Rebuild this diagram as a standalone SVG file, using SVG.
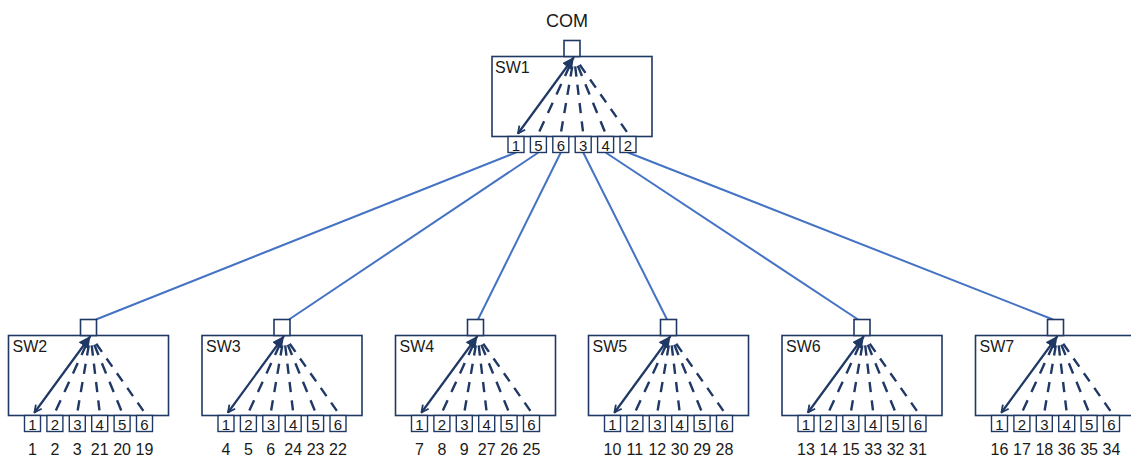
<svg xmlns="http://www.w3.org/2000/svg" xmlns:xlink="http://www.w3.org/1999/xlink" width="1131" height="457" viewBox="0 0 1131 457">
<style>
.box{fill:#fff;stroke:#1F3864;stroke-width:1.6}
.sq{fill:#fff;stroke:#1F3864;stroke-width:1.6}
.port{fill:#fff;stroke:#1F3864;stroke-width:1.4}
.lbl{font-family:"Liberation Sans",Arial,sans-serif;font-size:16px;fill:#1a1a1a}
.pd{font-family:"Liberation Sans",Arial,sans-serif;font-size:15px;fill:#1a1a1a;text-anchor:middle}
.num{font-family:"Liberation Sans",Arial,sans-serif;font-size:16px;fill:#1a1a1a;text-anchor:middle}
.com{font-family:"Liberation Sans",Arial,sans-serif;font-size:18px;fill:#1a1a1a;text-anchor:middle}
.conn{stroke:#4472C4;stroke-width:2;fill:none}
.solid{stroke:#1F3864;stroke-width:2.2;fill:none}
.dash{stroke:#1F3864;stroke-width:2.4;fill:none;stroke-dasharray:10 8}
</style>
<defs>
<marker id="tri" viewBox="0 0 10 10" refX="10" refY="5" markerWidth="12" markerHeight="12" markerUnits="userSpaceOnUse" orient="auto-start-reverse">
<path d="M0,0 L10,5 L0,10 z" fill="#1F3864"/>
</marker>
<marker id="vee" viewBox="0 0 10 10" refX="9" refY="5" markerWidth="9" markerHeight="9" markerUnits="userSpaceOnUse" orient="auto">
<path d="M1,1 L9,5 L1,9" fill="none" stroke="#1F3864" stroke-width="2"/>
</marker>
<g id="fan">
<line class="solid" x1="0" y1="0.5" x2="-56" y2="77" marker-start="url(#tri)" marker-end="url(#vee)"/>
<line class="dash" x1="-4.2" y1="9.1" x2="-35.6" y2="77" pathLength="66"/>
<line class="dash" x1="-1.7" y1="9.9" x2="-13.2" y2="77" pathLength="66"/>
<line class="dash" x1="1.2" y1="9.9" x2="9.2" y2="77" pathLength="66"/>
<line class="dash" x1="3.8" y1="9.3" x2="31.6" y2="77" pathLength="66"/>
<line class="dash" x1="5.7" y1="8.2" x2="54" y2="77" pathLength="84"/>
</g>
</defs>
<rect width="1131" height="457" fill="#fff"/>

<g id="connectors">
<line class="conn" x1="516" y1="152.5" x2="96" y2="319.5"/>
<line class="conn" x1="538.4" y1="152.5" x2="289" y2="319.5"/>
<line class="conn" x1="560.8" y1="152.5" x2="478" y2="319.5"/>
<line class="conn" x1="583.2" y1="152.5" x2="667" y2="319.5"/>
<line class="conn" x1="605.6" y1="152.5" x2="858" y2="319.5"/>
<line class="conn" x1="628" y1="152.5" x2="1053" y2="319.5"/>
</g>

<g id="com"><text class="com" x="567" y="27">COM</text></g>

<g id="sw1" transform="translate(572,0)">
<rect class="box" x="-80" y="56.5" width="160" height="80"/>
<rect class="sq" x="-8" y="40.5" width="16" height="16"/>
<text class="lbl" x="-77" y="73">SW1</text>
<use href="#fan" x="2" y="56.5"/>
<rect class="port" x="-64" y="136.5" width="16" height="16"/>
<rect class="port" x="-41.6" y="136.5" width="16" height="16"/>
<rect class="port" x="-19.2" y="136.5" width="16" height="16"/>
<rect class="port" x="3.2" y="136.5" width="16" height="16"/>
<rect class="port" x="25.6" y="136.5" width="16" height="16"/>
<rect class="port" x="48" y="136.5" width="16" height="16"/>
<text class="pd" x="-56" y="150.5">1</text>
<text class="pd" x="-33.6" y="150.5">5</text>
<text class="pd" x="-11.2" y="150.5">6</text>
<text class="pd" x="11.2" y="150.5">3</text>
<text class="pd" x="33.6" y="150.5">4</text>
<text class="pd" x="56" y="150.5">2</text>
</g>

<g id="sw2" transform="translate(88.5,0)">
<rect class="box" x="-80" y="335.5" width="160" height="80"/>
<rect class="sq" x="-8" y="319.5" width="16" height="16"/>
<text class="lbl" x="-76" y="352">SW2</text>
<use href="#fan" x="2" y="335.5"/>
<rect class="port" x="-64" y="415.5" width="16" height="16"/>
<rect class="port" x="-41.6" y="415.5" width="16" height="16"/>
<rect class="port" x="-19.2" y="415.5" width="16" height="16"/>
<rect class="port" x="3.2" y="415.5" width="16" height="16"/>
<rect class="port" x="25.6" y="415.5" width="16" height="16"/>
<rect class="port" x="48" y="415.5" width="16" height="16"/>
<text class="pd" x="-56" y="429.5">1</text>
<text class="pd" x="-33.6" y="429.5">2</text>
<text class="pd" x="-11.2" y="429.5">3</text>
<text class="pd" x="11.2" y="429.5">4</text>
<text class="pd" x="33.6" y="429.5">5</text>
<text class="pd" x="56" y="429.5">6</text>
<text class="num" x="-56" y="455">1</text>
<text class="num" x="-33.6" y="455">2</text>
<text class="num" x="-11.2" y="455">3</text>
<text class="num" x="11.2" y="455">21</text>
<text class="num" x="33.6" y="455">20</text>
<text class="num" x="56" y="455">19</text>
</g>

<g id="sw3" transform="translate(282,0)">
<rect class="box" x="-80" y="335.5" width="160" height="80"/>
<rect class="sq" x="-8" y="319.5" width="16" height="16"/>
<text class="lbl" x="-76" y="352">SW3</text>
<use href="#fan" x="2" y="335.5"/>
<rect class="port" x="-64" y="415.5" width="16" height="16"/>
<rect class="port" x="-41.6" y="415.5" width="16" height="16"/>
<rect class="port" x="-19.2" y="415.5" width="16" height="16"/>
<rect class="port" x="3.2" y="415.5" width="16" height="16"/>
<rect class="port" x="25.6" y="415.5" width="16" height="16"/>
<rect class="port" x="48" y="415.5" width="16" height="16"/>
<text class="pd" x="-56" y="429.5">1</text>
<text class="pd" x="-33.6" y="429.5">2</text>
<text class="pd" x="-11.2" y="429.5">3</text>
<text class="pd" x="11.2" y="429.5">4</text>
<text class="pd" x="33.6" y="429.5">5</text>
<text class="pd" x="56" y="429.5">6</text>
<text class="num" x="-56" y="455">4</text>
<text class="num" x="-33.6" y="455">5</text>
<text class="num" x="-11.2" y="455">6</text>
<text class="num" x="11.2" y="455">24</text>
<text class="num" x="33.6" y="455">23</text>
<text class="num" x="56" y="455">22</text>
</g>

<g id="sw4" transform="translate(475.5,0)">
<rect class="box" x="-80" y="335.5" width="160" height="80"/>
<rect class="sq" x="-8" y="319.5" width="16" height="16"/>
<text class="lbl" x="-76" y="352">SW4</text>
<use href="#fan" x="2" y="335.5"/>
<rect class="port" x="-64" y="415.5" width="16" height="16"/>
<rect class="port" x="-41.6" y="415.5" width="16" height="16"/>
<rect class="port" x="-19.2" y="415.5" width="16" height="16"/>
<rect class="port" x="3.2" y="415.5" width="16" height="16"/>
<rect class="port" x="25.6" y="415.5" width="16" height="16"/>
<rect class="port" x="48" y="415.5" width="16" height="16"/>
<text class="pd" x="-56" y="429.5">1</text>
<text class="pd" x="-33.6" y="429.5">2</text>
<text class="pd" x="-11.2" y="429.5">3</text>
<text class="pd" x="11.2" y="429.5">4</text>
<text class="pd" x="33.6" y="429.5">5</text>
<text class="pd" x="56" y="429.5">6</text>
<text class="num" x="-56" y="455">7</text>
<text class="num" x="-33.6" y="455">8</text>
<text class="num" x="-11.2" y="455">9</text>
<text class="num" x="11.2" y="455">27</text>
<text class="num" x="33.6" y="455">26</text>
<text class="num" x="56" y="455">25</text>
</g>

<g id="sw5" transform="translate(668.5,0)">
<rect class="box" x="-80" y="335.5" width="160" height="80"/>
<rect class="sq" x="-8" y="319.5" width="16" height="16"/>
<text class="lbl" x="-76" y="352">SW5</text>
<use href="#fan" x="2" y="335.5"/>
<rect class="port" x="-64" y="415.5" width="16" height="16"/>
<rect class="port" x="-41.6" y="415.5" width="16" height="16"/>
<rect class="port" x="-19.2" y="415.5" width="16" height="16"/>
<rect class="port" x="3.2" y="415.5" width="16" height="16"/>
<rect class="port" x="25.6" y="415.5" width="16" height="16"/>
<rect class="port" x="48" y="415.5" width="16" height="16"/>
<text class="pd" x="-56" y="429.5">1</text>
<text class="pd" x="-33.6" y="429.5">2</text>
<text class="pd" x="-11.2" y="429.5">3</text>
<text class="pd" x="11.2" y="429.5">4</text>
<text class="pd" x="33.6" y="429.5">5</text>
<text class="pd" x="56" y="429.5">6</text>
<text class="num" x="-56" y="455">10</text>
<text class="num" x="-33.6" y="455">11</text>
<text class="num" x="-11.2" y="455">12</text>
<text class="num" x="11.2" y="455">30</text>
<text class="num" x="33.6" y="455">29</text>
<text class="num" x="56" y="455">28</text>
</g>

<g id="sw6" transform="translate(862,0)">
<rect class="box" x="-80" y="335.5" width="160" height="80"/>
<rect class="sq" x="-8" y="319.5" width="16" height="16"/>
<text class="lbl" x="-76" y="352">SW6</text>
<use href="#fan" x="2" y="335.5"/>
<rect class="port" x="-64" y="415.5" width="16" height="16"/>
<rect class="port" x="-41.6" y="415.5" width="16" height="16"/>
<rect class="port" x="-19.2" y="415.5" width="16" height="16"/>
<rect class="port" x="3.2" y="415.5" width="16" height="16"/>
<rect class="port" x="25.6" y="415.5" width="16" height="16"/>
<rect class="port" x="48" y="415.5" width="16" height="16"/>
<text class="pd" x="-56" y="429.5">1</text>
<text class="pd" x="-33.6" y="429.5">2</text>
<text class="pd" x="-11.2" y="429.5">3</text>
<text class="pd" x="11.2" y="429.5">4</text>
<text class="pd" x="33.6" y="429.5">5</text>
<text class="pd" x="56" y="429.5">6</text>
<text class="num" x="-56" y="455">13</text>
<text class="num" x="-33.6" y="455">14</text>
<text class="num" x="-11.2" y="455">15</text>
<text class="num" x="11.2" y="455">33</text>
<text class="num" x="33.6" y="455">32</text>
<text class="num" x="56" y="455">31</text>
</g>

<g id="sw7" transform="translate(1055.5,0)">
<rect class="box" x="-80" y="335.5" width="160" height="80"/>
<rect class="sq" x="-8" y="319.5" width="16" height="16"/>
<text class="lbl" x="-76" y="352">SW7</text>
<use href="#fan" x="2" y="335.5"/>
<rect class="port" x="-64" y="415.5" width="16" height="16"/>
<rect class="port" x="-41.6" y="415.5" width="16" height="16"/>
<rect class="port" x="-19.2" y="415.5" width="16" height="16"/>
<rect class="port" x="3.2" y="415.5" width="16" height="16"/>
<rect class="port" x="25.6" y="415.5" width="16" height="16"/>
<rect class="port" x="48" y="415.5" width="16" height="16"/>
<text class="pd" x="-56" y="429.5">1</text>
<text class="pd" x="-33.6" y="429.5">2</text>
<text class="pd" x="-11.2" y="429.5">3</text>
<text class="pd" x="11.2" y="429.5">4</text>
<text class="pd" x="33.6" y="429.5">5</text>
<text class="pd" x="56" y="429.5">6</text>
<text class="num" x="-56" y="455">16</text>
<text class="num" x="-33.6" y="455">17</text>
<text class="num" x="-11.2" y="455">18</text>
<text class="num" x="11.2" y="455">36</text>
<text class="num" x="33.6" y="455">35</text>
<text class="num" x="56" y="455">34</text>
</g>
</svg>
